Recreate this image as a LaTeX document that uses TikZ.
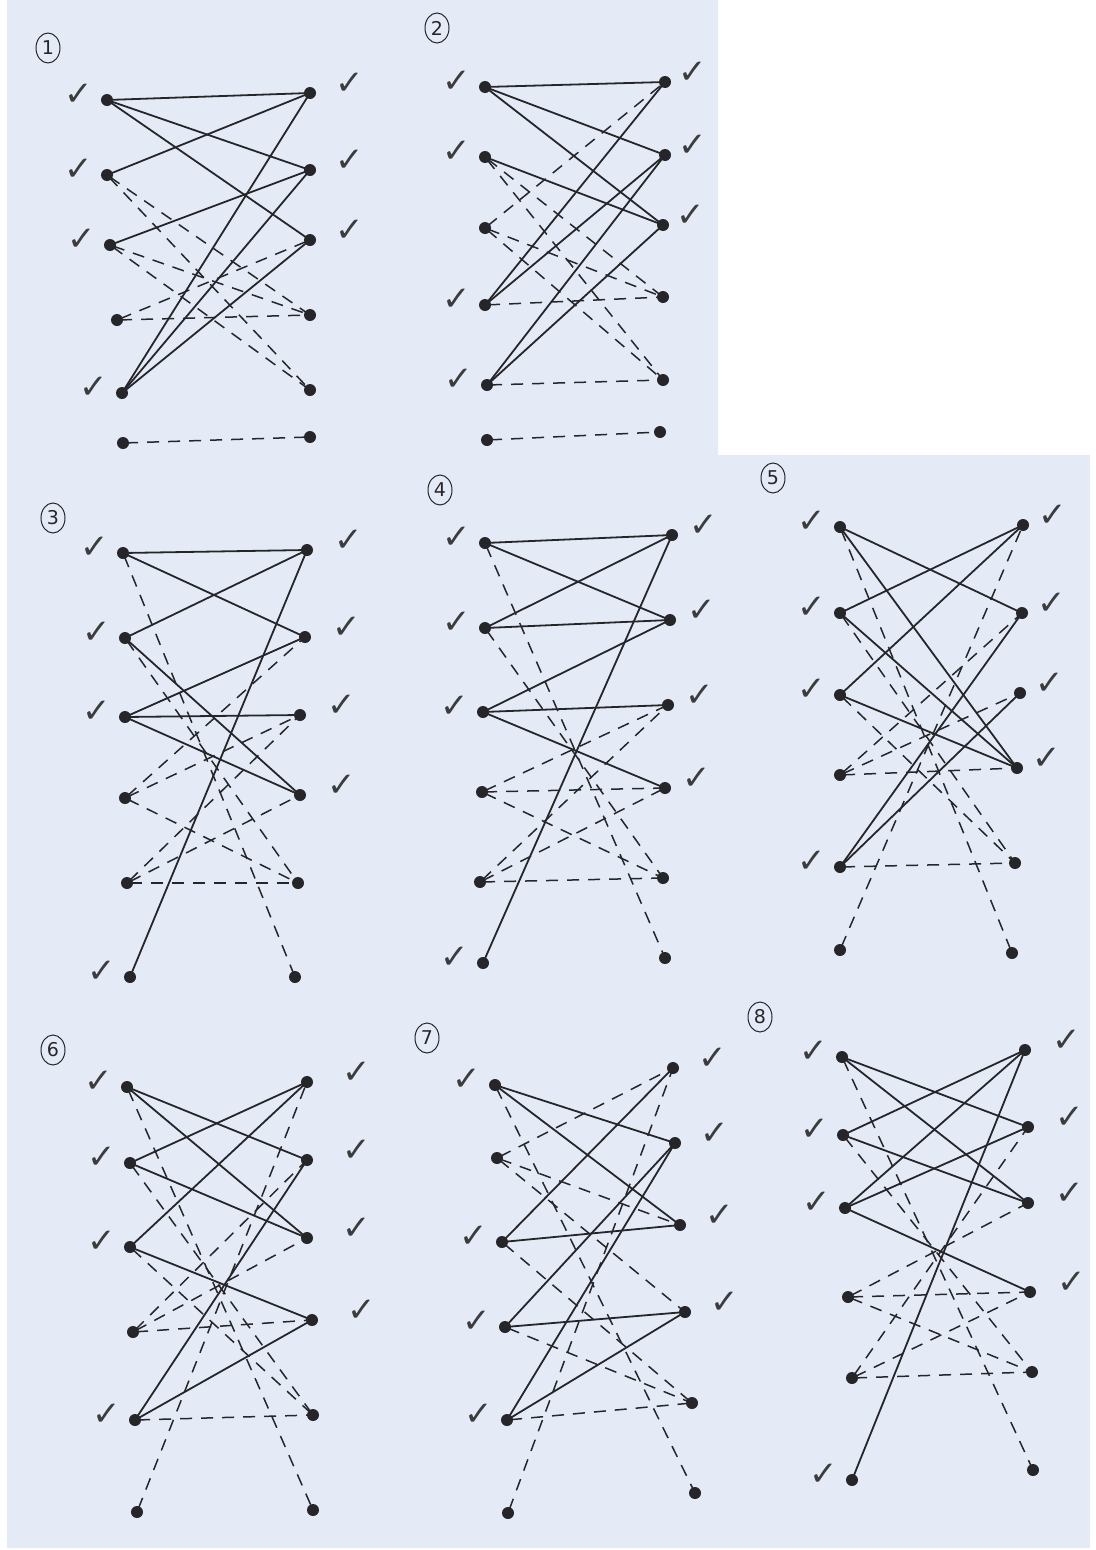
\documentclass[tikz,border=0pt]{standalone}
\usepackage{fontspec}
\newfontfamily\chkfont{DejaVu Sans}
\definecolor{paper}{HTML}{E5EBF6}
\definecolor{ink}{HTML}{26262A}
\tikzset{
  dot/.style={circle,fill=ink,inner sep=0pt,minimum size=12pt},
  sedge/.style={draw=ink,line width=1.8pt,shorten <=-3pt,shorten >=-3pt},
  dedge/.style={draw=ink,line width=1.5pt,dash pattern=on 12pt off 9pt,shorten <=-3pt,shorten >=-3pt},
  chk/.style={text=ink!90,font=\chkfont\fontsize{34}{34}\selectfont,inner sep=0pt},
  numlabel/.style={draw=ink,line width=1pt,ellipse,inner sep=1pt,minimum width=24pt,minimum height=30pt,text=ink,font=\chkfont\fontsize{19}{19}\selectfont}
}
\usetikzlibrary{shapes.geometric}
\newcommand{\sedges}[2]{\foreach \a/\b in {#2}{\draw[sedge] (#1l\a) -- (#1r\b);}}
\newcommand{\dedges}[2]{\foreach \a/\b in {#2}{\draw[dedge] (#1l\a) -- (#1r\b);}}
\newcommand{\lchecks}[2]{\foreach \a in {#2}{\node[chk,xshift=-28pt,yshift=5pt] (#1cl\a) at (#1l\a) {✓};}}
\newcommand{\rchecks}[3]{\foreach \a in {#2}{\node[chk,xshift=#3,yshift=9pt] (#1cr\a) at (#1r\a) {✓};}}
\begin{document}
\begin{tikzpicture}[x=1pt,y=-1pt]
\useasboundingbox (0,0) rectangle (1095,1550);
\fill[white] (0,0) rectangle (1095,1550);
\fill[paper] (7,0) -- (718,0) -- (718,455) -- (1090,455) -- (1090,1548) -- (7,1548) -- cycle;

% ---------- panel 1
\node[numlabel] (n1) at (48,48) {1};
\foreach \i/\x/\y in {1/107/100,2/107/175,3/110/245,4/117/320,5/122/393,6/123/443}{\node[dot] (p1l\i) at (\x,\y) {};}
\foreach \i/\x/\y in {1/310/93,2/310/170,3/310/240,4/310/315,5/310/390,6/310/437}{\node[dot] (p1r\i) at (\x,\y) {};}
\sedges{p1}{1/1,1/2,1/3,2/1,3/2,5/1,5/2,5/3}
\dedges{p1}{2/4,2/5,3/4,3/5,4/3,4/4,6/6}
\lchecks{p1}{1,2,3,5}
\rchecks{p1}{1,2,3}{40pt}

% ---------- panel 2
\node[numlabel] (n2) at (437,28) {2};
\foreach \i/\x/\y in {1/485/87,2/485/157,3/485/228,4/485/305,5/487/385,6/487/440}{\node[dot] (p2l\i) at (\x,\y) {};}
\foreach \i/\x/\y in {1/665/82,2/665/155,3/663/225,4/663/297,5/663/380,6/660/432}{\node[dot] (p2r\i) at (\x,\y) {};}
\sedges{p2}{1/1,1/2,1/3,2/3,4/1,4/2,5/2,5/3}
\dedges{p2}{3/1,2/4,2/5,3/4,3/5,4/4,5/5,6/6}
\lchecks{p2}{1,2,4,5}
\rchecks{p2}{1,2,3}{28pt}

% ---------- panel 3
\node[numlabel] (n3) at (53,518) {3};
\foreach \i/\x/\y in {1/123/553,2/125/638,3/125/717,4/125/798,5/127/883,6/130/977}{\node[dot] (p3l\i) at (\x,\y) {};}
\foreach \i/\x/\y in {1/307/550,2/305/637,3/300/715,4/300/795,5/298/883,6/295/977}{\node[dot] (p3r\i) at (\x,\y) {};}
\sedges{p3}{1/1,1/2,2/1,2/4,3/2,3/3,3/4,6/1}
\dedges{p3}{1/6,2/5,4/2,4/3,4/5,5/3,5/4,5/5}
\lchecks{p3}{1,2,3,6}
\rchecks{p3}{1,2,3,4}{42pt}

% ---------- panel 4
\node[numlabel] (n4) at (440,490) {4};
\foreach \i/\x/\y in {1/485/543,2/485/628,3/483/712,4/482/792,5/480/882,6/483/963}{\node[dot] (p4l\i) at (\x,\y) {};}
\foreach \i/\x/\y in {1/672/535,2/670/620,3/668/705,4/665/788,5/663/878,6/665/958}{\node[dot] (p4r\i) at (\x,\y) {};}
\sedges{p4}{1/1,1/2,2/1,2/2,3/2,3/3,3/4,6/1}
\dedges{p4}{1/6,2/5,4/3,4/4,4/5,5/3,5/4,5/5}
\lchecks{p4}{1,2,3,6}
\rchecks{p4}{1,2,3,4}{32pt}

% ---------- panel 5
\node[numlabel] (n5) at (773,478) {5};
\foreach \i/\x/\y in {1/840/527,2/840/613,3/840/695,4/840/775,5/840/867,6/840/950}{\node[dot] (p5l\i) at (\x,\y) {};}
\foreach \i/\x/\y in {1/1023/525,2/1022/613,3/1020/693,4/1017/768,5/1015/863,6/1012/953}{\node[dot] (p5r\i) at (\x,\y) {};}
\sedges{p5}{1/2,1/4,2/1,2/4,3/1,3/4,5/2,5/3}
\dedges{p5}{1/6,6/1,2/5,3/5,4/2,4/3,4/4,5/5}
\lchecks{p5}{1,2,3,5}
\rchecks{p5}{1,2,3,4}{30pt}

% ---------- panel 6
\node[numlabel] (n6) at (53,1050) {6};
\foreach \i/\x/\y in {1/127/1087,2/130/1163,3/130/1247,4/133/1332,5/135/1420,6/137/1512}{\node[dot] (p6l\i) at (\x,\y) {};}
\foreach \i/\x/\y in {1/307/1082,2/307/1160,3/307/1238,4/312/1320,5/313/1415,6/313/1510}{\node[dot] (p6r\i) at (\x,\y) {};}
\sedges{p6}{1/2,1/3,2/1,2/3,3/1,3/4,5/2,5/4}
\dedges{p6}{1/6,6/1,2/5,3/5,4/2,4/3,4/4,5/5}
\lchecks{p6}{1,2,3,5}
\rchecks{p6}{1,2,3,4}{50pt}

% ---------- panel 7
\node[numlabel] (n7) at (427,1038) {7};
\foreach \i/\x/\y in {1/495/1085,2/497/1158,3/502/1242,4/505/1327,5/507/1420,6/508/1513}{\node[dot] (p7l\i) at (\x,\y) {};}
\foreach \i/\x/\y in {1/673/1068,2/675/1143,3/680/1225,4/685/1312,5/692/1403,6/695/1493}{\node[dot] (p7r\i) at (\x,\y) {};}
\sedges{p7}{1/2,1/3,3/1,3/3,4/2,4/4,5/2,5/4}
\dedges{p7}{2/1,2/3,2/4,3/5,4/5,5/5,1/6,6/1}
\lchecks{p7}{1,3,4,5}
\rchecks{p7}{1,2,3,4}{40pt}

% ---------- panel 8
\node[numlabel] (n8) at (760,1017) {8};
\foreach \i/\x/\y in {1/842/1057,2/843/1135,3/845/1208,4/848/1297,5/852/1378,6/852/1480}{\node[dot] (p8l\i) at (\x,\y) {};}
\foreach \i/\x/\y in {1/1025/1050,2/1028/1127,3/1028/1203,4/1030/1292,5/1032/1372,6/1033/1470}{\node[dot] (p8r\i) at (\x,\y) {};}
\sedges{p8}{1/2,1/3,2/1,2/3,3/1,3/2,3/4,6/1}
\dedges{p8}{1/6,2/5,4/3,4/4,4/5,5/2,5/4,5/5}
\lchecks{p8}{1,2,3,6}
\rchecks{p8}{1,2,3,4}{42pt}
\end{tikzpicture}
\end{document}
